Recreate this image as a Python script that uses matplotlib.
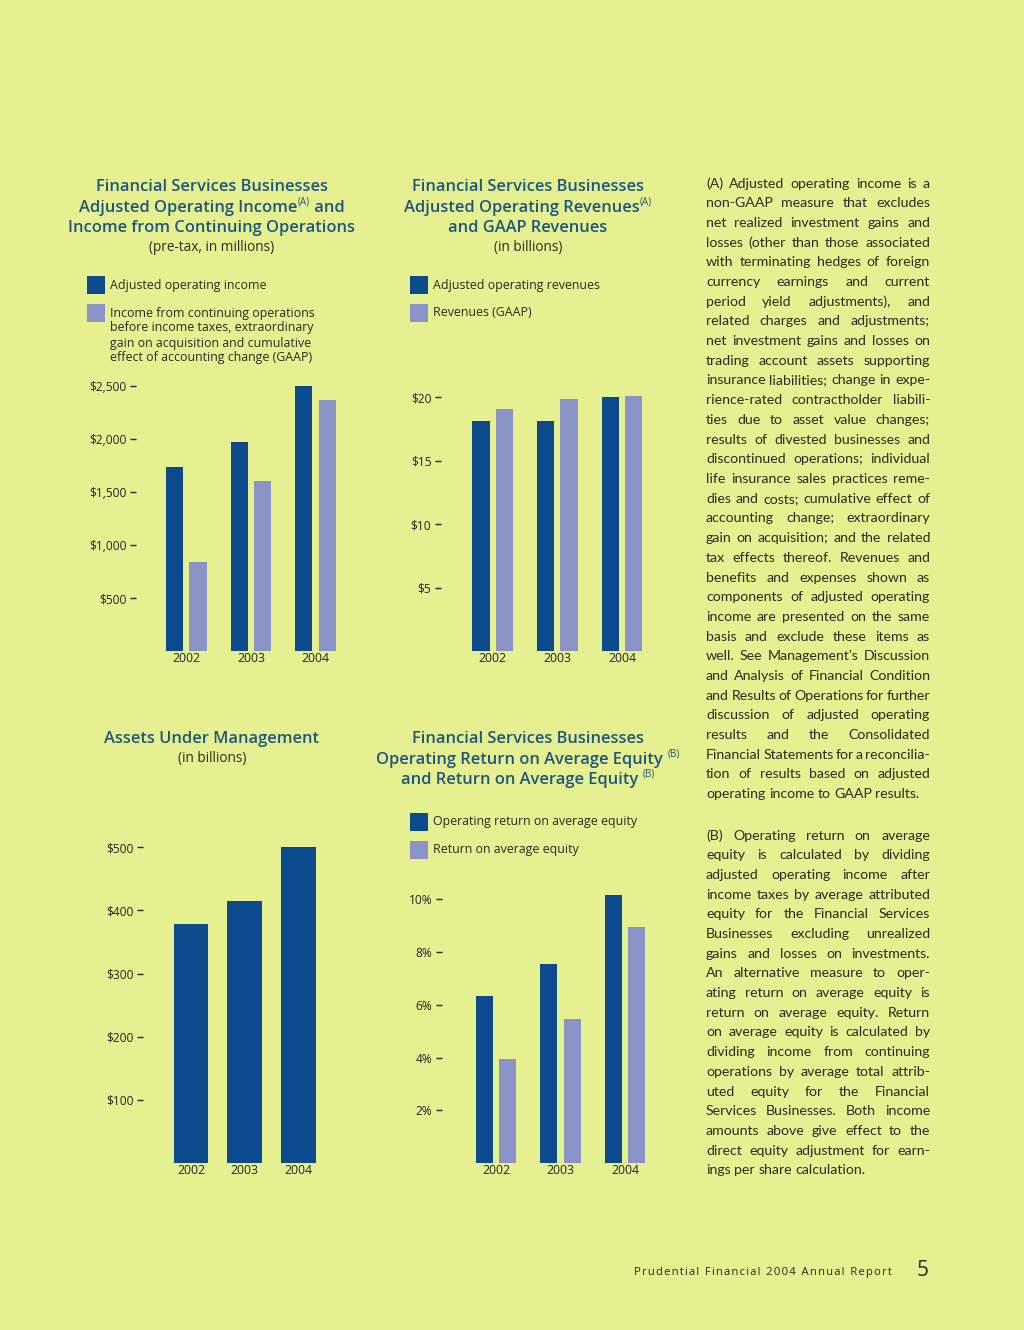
import numpy as np
import matplotlib
matplotlib.use("Agg")
import matplotlib.pyplot as plt
from matplotlib.patches import Rectangle

# ---- data ----
years = ["2002", "2003", "2004"]

adj_op_income = [1735, 1970, 2500]          # $ millions
income_cont_ops = [840, 1605, 2370]
income_ticks = [500, 1000, 1500, 2000, 2500]
income_labels = [r"\$500", r"\$1,000", r"\$1,500", r"\$2,000", r"\$2,500"]

adj_op_revenues = [18.1, 18.1, 20.0]         # $ billions
gaap_revenues = [19.1, 19.9, 20.1]
rev_ticks = [5, 10, 15, 20]
rev_labels = [r"\$5", r"\$10", r"\$15", r"\$20"]

aum = [378, 415, 500]                        # $ billions
aum_ticks = [100, 200, 300, 400, 500]
aum_labels = [r"\$100", r"\$200", r"\$300", r"\$400", r"\$500"]

op_roe = [6.35, 7.55, 10.15]                 # percent
roe = [3.95, 5.45, 8.95]
roe_ticks = [2, 4, 6, 8, 10]
roe_labels = ["2%", "4%", "6%", "8%", "10%"]

# ---- style ----
W, H = 1024, 1330
BG = "#e7f091"
DARK = "#0c4a8e"
LIGHT = "#8a93c6"
TITLE_C = "#1d577f"
TEXT_C = "#2a2a22"
FONT = "Open Sans"
NOTE_FONT = "Lato"

plt.rcParams["font.family"] = [FONT, "DejaVu Sans"]

fig = plt.figure(figsize=(W / 100, H / 100), dpi=100, facecolor=BG)
renderer = fig.canvas.get_renderer()


def fx(x):
    return x / W


def fy(y):
    return 1 - y / H


def make_ax(left, right, top, bottom, xlim, ymax, ticks, labels):
    ax = fig.add_axes([fx(left), fy(bottom), (right - left) / W, (bottom - top) / H])
    ax.set_facecolor("none")
    for s in ax.spines.values():
        s.set_visible(False)
    ax.set_xlim(*xlim)
    ax.set_ylim(0, ymax)
    ax.set_yticks(ticks, labels)
    ax.set_xticks(range(len(years)), years)
    ax.tick_params(axis="y", direction="out", length=4.5, width=1.0, color="#222222",
                   pad=2.5, labelsize=8.6, labelcolor="#222222")
    ax.tick_params(axis="x", length=0, pad=1.0, labelsize=8.8, labelcolor="#222222")
    return ax


def width_of(t):
    return t.get_window_extent(renderer).width


def title_line(cx, y, pieces, fs=11.9):
    # pieces: list of (text, superscript?)
    arts = []
    for txt, sup in pieces:
        if sup:
            a = fig.text(0, 0, txt, fontsize=fs * 0.6, color=TITLE_C, va="baseline")
        else:
            a = fig.text(0, 0, txt, fontsize=fs, fontweight="semibold", color=TITLE_C,
                         va="baseline")
        arts.append((a, sup))
    widths = [width_of(a) for a, _ in arts]
    xx = cx - sum(widths) / 2
    for (a, sup), w in zip(arts, widths):
        a.set_position((fx(xx), fy(y + 5 - (7 if sup else 0))))
        xx += w


def title(cx, y0, lines, sub=None):
    for i, ln in enumerate(lines):
        title_line(cx, y0 + i * 20.5, ln)
    if sub:
        fig.text(fx(cx), fy(y0 + len(lines) * 20.5), sub, ha="center", va="center",
                 fontsize=9.8, color=TEXT_C)


def legend_item(x, y, color, lines):
    fig.add_artist(Rectangle((fx(x), fy(y + 18)), 18 / W, 18 / H, transform=fig.transFigure,
                             facecolor=color, edgecolor="none"))
    for i, ln in enumerate(lines):
        fig.text(fx(x + 23), fy(y + 9 + i * 15), ln, ha="left", va="center",
                 fontsize=8.9, color=TEXT_C)


bw2 = 0.266
off = 0.181
x = np.arange(3)

# chart 1: adjusted operating income
ax1 = make_ax(136, 350, 380, 651, (-0.779, 2.534), 2557, income_ticks, income_labels)
ax1.bar(x - off, adj_op_income, bw2, color=DARK)
ax1.bar(x + off, income_cont_ops, bw2, color=LIGHT)
title(212, 186, [[("Financial Services Businesses", False)],
                 [("Adjusted Operating Income", False), ("(A)", True), (" and", False)],
                 [("Income from Continuing Operations", False)]],
      "(pre-tax, in millions)")
legend_item(87, 276, DARK, ["Adjusted operating income"])
legend_item(87, 304, LIGHT, ["Income from continuing operations",
                             "before income taxes, extraordinary",
                             "gain on acquisition and cumulative",
                             "effect of accounting change (GAAP)"])

# chart 2: revenues
ax2 = make_ax(441, 660, 380, 651, (-0.801, 2.59), 21.36, rev_ticks, rev_labels)
ax2.bar(x - off, adj_op_revenues, bw2, color=DARK)
ax2.bar(x + off, gaap_revenues, bw2, color=LIGHT)
title(528, 186, [[("Financial Services Businesses", False)],
                 [("Adjusted Operating Revenues", False), ("(A)", True)],
                 [("and GAAP Revenues", False)]],
      "(in billions)")
legend_item(410, 276, DARK, ["Adjusted operating revenues"])
legend_item(410, 304, LIGHT, ["Revenues (GAAP)"])

# chart 3: assets under management
ax3 = make_ax(143, 340, 840, 1163, (-0.892, 2.775), 511.6, aum_ticks, aum_labels)
ax3.bar(x, aum, 0.645, color=DARK)
title(212, 738, [[("Assets Under Management", False)]], "(in billions)")

# chart 4: return on equity
ax4 = make_ax(442, 660, 880, 1163, (-0.836, 2.54), 10.73, roe_ticks, roe_labels)
ax4.bar(x - off, op_roe, bw2, color=DARK)
ax4.bar(x + off, roe, bw2, color=LIGHT)
title(528, 738, [[("Financial Services Businesses", False)],
                 [("Operating Return on Average Equity ", False), ("(B)", True)],
                 [("and Return on Average Equity ", False), ("(B)", True)]])
legend_item(410, 813, DARK, ["Operating return on average equity"])
legend_item(410, 841, LIGHT, ["Return on average equity"])

# ---- footnote column (justified) ----
note_a = [
    "(A) Adjusted operating income is a",
    "non-GAAP measure that excludes",
    "net realized investment gains and",
    "losses (other than those associated",
    "with terminating hedges of foreign",
    "currency earnings and current",
    "period yield adjustments), and",
    "related charges and adjustments;",
    "net investment gains and losses on",
    "trading account assets supporting",
    "insurance liabilities; change in expe-",
    "rience-rated contractholder liabili-",
    "ties due to asset value changes;",
    "results of divested businesses and",
    "discontinued operations; individual",
    "life insurance sales practices reme-",
    "dies and costs; cumulative effect of",
    "accounting change; extraordinary",
    "gain on acquisition; and the related",
    "tax effects thereof. Revenues and",
    "benefits and expenses shown as",
    "components of adjusted operating",
    "income are presented on the same",
    "basis and exclude these items as",
    "well. See Management's Discussion",
    "and Analysis of Financial Condition",
    "and Results of Operations for further",
    "discussion of adjusted operating",
    "results and the Consolidated",
    "Financial Statements for a reconcilia-",
    "tion of results based on adjusted",
    "operating income to GAAP results.",
]
note_b = [
    "(B) Operating return on average",
    "equity is calculated by dividing",
    "adjusted operating income after",
    "income taxes by average attributed",
    "equity for the Financial Services",
    "Businesses excluding unrealized",
    "gains and losses on investments.",
    "An alternative measure to oper-",
    "ating return on average equity is",
    "return on average equity. Return",
    "on average equity is calculated by",
    "dividing income from continuing",
    "operations by average total attrib-",
    "uted equity for the Financial",
    "Services Businesses. Both income",
    "amounts above give effect to the",
    "direct equity adjustment for earn-",
    "ings per share calculation.",
]

COL_L, COL_R = 706, 930
MIN_GAP = 2.4

# pick a note size that lets the tightest line still fit the column
base_fs = 10.0
need = 0.0
for ln in note_a + note_b:
    ws = ln.split()
    tmp = [fig.text(0, 0, w, fontsize=base_fs, family=NOTE_FONT) for w in ws]
    tot = sum(width_of(t) for t in tmp)
    for t in tmp:
        t.remove()
    need = max(need, tot / (COL_R - COL_L - MIN_GAP * (len(ws) - 1)))
NOTE_FS = min(10.8, base_fs / need)


def justified(lines, x0, x1, ybase, dy):
    for i, ln in enumerate(lines):
        words = ln.split()
        arts = [fig.text(0, 0, w, fontsize=NOTE_FS, family=NOTE_FONT, color=TEXT_C,
                         va="baseline") for w in words]
        widths = [width_of(a) for a in arts]
        if i == len(lines) - 1 or len(words) == 1:
            gap = NOTE_FS * 100 / 72 * 0.25
        else:
            gap = (x1 - x0 - sum(widths)) / (len(words) - 1)
        xx = x0
        for a, w in zip(arts, widths):
            a.set_position((fx(xx), fy(ybase + i * dy)))
            xx += w + gap


justified(note_a, COL_L, COL_R, 187.5, 19.7)
justified(note_b, COL_L, COL_R, 839.5, 19.7)

# footer
footer = "\u2002".join("\u200a".join(w) for w in "Prudential Financial 2004 Annual Report".split())
fig.text(fx(892), fy(1272), footer, ha="right", va="center", fontsize=8.2, color=TEXT_C)
fig.text(fx(929), fy(1270), "5", ha="right", va="center", fontsize=15, color=TEXT_C)

fig.savefig("out.png", dpi=100, facecolor=BG)
